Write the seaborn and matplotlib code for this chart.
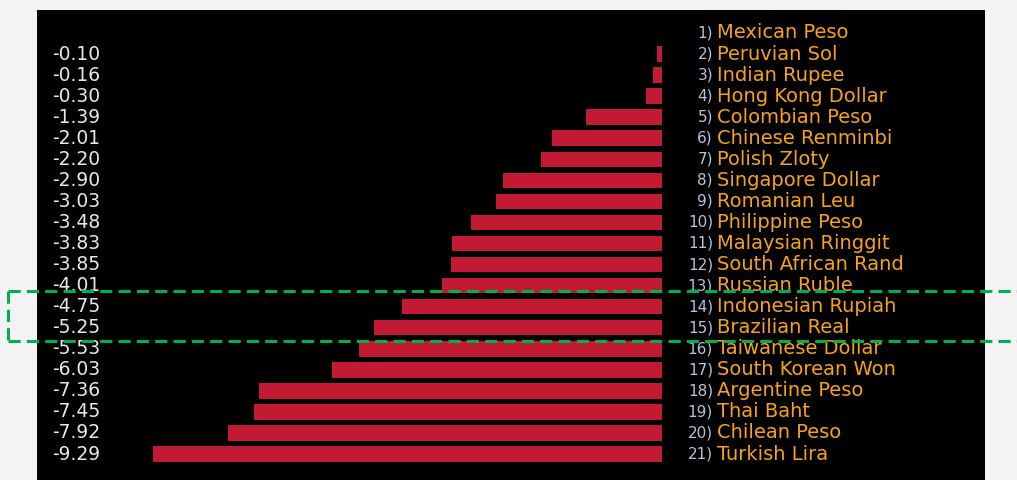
import numpy as np
import pandas as pd
import seaborn as sns
import matplotlib.pyplot as plt
from matplotlib.lines import Line2D

# currencies ranked, with their change (Mexican Peso shows no value)
currencies = ['Mexican Peso', 'Peruvian Sol', 'Indian Rupee', 'Hong Kong Dollar',
              'Colombian Peso', 'Chinese Renminbi', 'Polish Zloty', 'Singapore Dollar',
              'Romanian Leu', 'Philippine Peso', 'Malaysian Ringgit', 'South African Rand',
              'Russian Ruble', 'Indonesian Rupiah', 'Brazilian Real', 'Taiwanese Dollar',
              'South Korean Won', 'Argentine Peso', 'Thai Baht', 'Chilean Peso', 'Turkish Lira']
changes = [None, -0.10, -0.16, -0.30, -1.39, -2.01, -2.20, -2.90, -3.03, -3.48, -3.83,
           -3.85, -4.01, -4.75, -5.25, -5.53, -6.03, -7.36, -7.45, -7.92, -9.29]
ranks = [f'{i})' for i in range(1, len(currencies) + 1)]

df = pd.DataFrame({'currency': currencies,
                   'change': [0.0 if v is None else v for v in changes]})

W, H = 1017, 480
fig = plt.figure(figsize=(W / 100, H / 100), dpi=100)
fig.patch.set_facecolor('#f3f3f5')

# black panel
left, right, top, bottom = 37, 985, 10, 480
ax = fig.add_axes([left / W, 0, (right - left) / W, (bottom - top) / H])
ax.set_facecolor('black')

sns.barplot(data=df, x='change', y='currency', order=currencies, orient='h',
            color='#c21a32', saturation=1, width=0.74, linewidth=0, ax=ax)

# pixel mapping: 0 at x=662, -9.29 at x=153; rows at 33 + 21.05*i
pxu = (662 - 153) / 9.29
ax.set_xlim(-(662 - left) / pxu, (right - 662) / pxu)
ax.set_ylim((bottom - 33) / 21.05, (top - 33) / 21.05)
ax.set_xticks([])
ax.set_yticks([])
ax.set_xlabel('')
ax.set_ylabel('')
for s in ax.spines.values():
    s.set_visible(False)

trans = ax.get_yaxis_transform()
for i, (v, r, name) in enumerate(zip(changes, ranks, currencies)):
    if v is not None:
        ax.text((52 - left) / (right - left), i, f'{v:.2f}', transform=trans,
                color='#e6e8ee', fontsize=13.5, ha='left', va='center')
    ax.text((713 - left) / (right - left), i, r, transform=trans,
            color='#b4c4dc', fontsize=11, ha='right', va='center')
    ax.text((717 - left) / (right - left), i, name, transform=trans,
            color='#f7a21b', fontsize=14, ha='left', va='center')

# green dashed highlight around rows 14-15
y1, y2, x0 = 1 - 291 / H, 1 - 341 / H, 8 / W
style = dict(color='#00b050', lw=2.2, ls=(0, (4, 2)), transform=fig.transFigure)
fig.add_artist(Line2D([x0, 1.0], [y1, y1], **style))
fig.add_artist(Line2D([x0, 1.0], [y2, y2], **style))
fig.add_artist(Line2D([x0, x0], [y1, y2], **style))

plt.savefig('out.png', dpi=100, facecolor=fig.get_facecolor())
